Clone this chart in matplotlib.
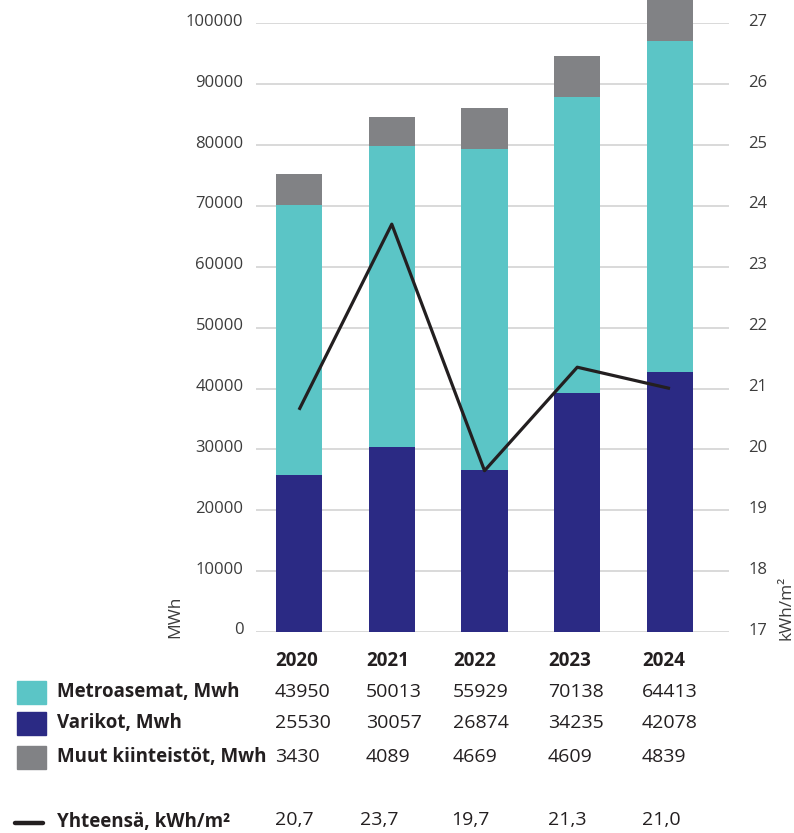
import matplotlib
matplotlib.use("Agg")
import matplotlib.pyplot as plt
from matplotlib.patches import Rectangle
from matplotlib.lines import Line2D
from matplotlib.transforms import ScaledTranslation

plt.rcParams['font.family'] = ['Open Sans', 'DejaVu Sans']

# ---- data ----
years = ["2020", "2021", "2022", "2023", "2024"]
# bar segment heights as drawn in the picture (MWh)
varikot_bar = [25800, 30400, 26600, 39300, 42700]
metro_bar = [44400, 49450, 52750, 48600, 54400]
muut_bar = [5050, 4750, 6750, 6750, 6900]
# line (kWh/m2)
yhteensa = [20.65, 23.7, 19.65, 21.35, 21.0]

# table texts
metro_tab = ["43950", "50013", "55929", "70138", "64413"]
varikot_tab = ["25530", "30057", "26874", "34235", "42078"]
muut_tab = ["3430", "4089", "4669", "4609", "4839"]
yht_tab = ["20,7", "23,7", "19,7", "21,3", "21,0"]

series_names = ["Metroasemat, Mwh", "Varikot, Mwh", "Muut kiinteistöt, Mwh"]
line_name = "Yhteensä, kWh/m²"
left_ticks = [0, 10000, 20000, 30000, 40000, 50000, 60000, 70000, 80000, 90000, 100000]
right_ticks = [17, 18, 19, 20, 21, 22, 23, 24, 25, 26, 27]

# ---- style ----
C_METRO = "#5BC5C6"
C_VAR = "#2B2A84"
C_MUUT = "#818285"
C_TXT = "#231f20"
C_TICK = "#3c3c3c"
C_GRID = "#cfcfcf"

W, H = 794, 833
fig = plt.figure(figsize=(W / 100, H / 100), dpi=100)

def fx(px):
    return px / W

def fy(py):
    return 1 - py / H

ax = fig.add_axes([fx(256), fy(632), fx(729) - fx(256), fy(23.3) - fy(632)])
ax2 = ax.twinx()

x = list(range(len(years)))
bw = 0.5
ax.bar(x, varikot_bar, width=bw, color=C_VAR, zorder=2, clip_on=False)
bottom2 = varikot_bar
ax.bar(x, metro_bar, width=bw, bottom=bottom2, color=C_METRO, zorder=2, clip_on=False)
bottom3 = [a + b for a, b in zip(varikot_bar, metro_bar)]
ax.bar(x, muut_bar, width=bw, bottom=bottom3, color=C_MUUT, zorder=2, clip_on=False)

ax.set_xlim(-0.464, 4.636)
ax.set_ylim(0, 100000)
ax.set_yticks(left_ticks)
ax.set_yticklabels([str(t) for t in left_ticks])
ax.yaxis.grid(True, color=C_GRID, linewidth=1.1, zorder=0)
ax.set_axisbelow(True)
ax.set_xticks([])
for s in ax.spines.values():
    s.set_visible(False)
ax.tick_params(axis='y', length=0, pad=9, labelsize=12, labelcolor=C_TICK)

ax2.set_ylim(17, 27)
ax2.set_yticks(right_ticks)
ax2.set_yticklabels([str(t) for t in right_ticks])
for s in ax2.spines.values():
    s.set_visible(False)
ax2.tick_params(axis='y', length=0, pad=14, labelsize=12, labelcolor=C_TICK)
ax2.plot(x, yhteensa, color=C_TXT, linewidth=2.3, zorder=5, solid_capstyle='butt')
ax2.set_zorder(ax.get_zorder() + 1)
ax2.patch.set_visible(False)

# lift tick labels slightly above their gridlines, as in the reference
shift = ScaledTranslation(0, 3.5 / 100, fig.dpi_scale_trans)
for lab in ax.get_yticklabels() + ax2.get_yticklabels():
    lab.set_transform(lab.get_transform() + shift)

# axis titles
fig.text(fx(175), fy(617), "MWh", rotation=90, ha='center', va='center',
         fontsize=12.5, color=C_TICK)
fig.text(fx(786), fy(608), "kWh/m²", rotation=90, ha='center', va='center',
         fontsize=12.5, color=C_TICK)

# ---- table ----
col_x = [275, 366, 453, 548, 642]
yht_x = [275, 360, 451, 548, 642]
FS = 13.5
FSN = 14
for cx, yr in zip(col_x, years):
    fig.text(fx(cx), fy(661), yr, ha='left', va='center', fontsize=FS,
             fontweight='bold', color=C_TXT)

rows = [(692, metro_tab, C_METRO, series_names[0]),
        (723, varikot_tab, C_VAR, series_names[1]),
        (757, muut_tab, C_MUUT, series_names[2])]
for ry, vals, col, name in rows:
    fig.patches.append(Rectangle((fx(17), fy(ry + 11.5)), fx(46) - fx(17), fy(ry - 11.5) - fy(ry + 11.5),
                                 transform=fig.transFigure, color=col, figure=fig))
    fig.text(fx(57), fy(ry), name, ha='left', va='center', fontsize=FS,
             fontweight='bold', color=C_TXT)
    for cx, v in zip(col_x, vals):
        fig.text(fx(cx), fy(ry), v, ha='left', va='center', fontsize=FSN, color=C_TXT)

ly = 822
fig.lines.append(Line2D([fx(15), fx(43)], [fy(ly + 1), fy(ly + 1)], transform=fig.transFigure,
                        color=C_TXT, linewidth=3.2, solid_capstyle='round', figure=fig))
fig.text(fx(57), fy(ly), line_name, ha='left', va='center', fontsize=FS,
         fontweight='bold', color=C_TXT)
for cx, v in zip(yht_x, yht_tab):
    fig.text(fx(cx), fy(ly - 2), v, ha='left', va='center', fontsize=FSN, color=C_TXT)

fig.savefig("out.png", dpi=100)
